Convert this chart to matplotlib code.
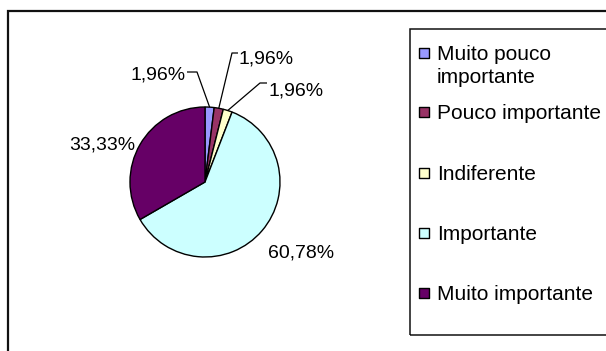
import matplotlib
matplotlib.use('Agg')
import matplotlib.pyplot as plt
import numpy as np
from matplotlib.patches import Rectangle

plt.rcParams['font.family'] = ['Liberation Sans', 'DejaVu Sans']

categories = ['Muito pouco importante', 'Pouco importante', 'Indiferente',
              'Importante', 'Muito importante']
legend_labels = ['Muito pouco\nimportante', 'Pouco importante', 'Indiferente',
                 'Importante', 'Muito importante']
percentages = [1.96, 1.96, 1.96, 60.78, 33.33]
pct_labels = ['1,96%', '1,96%', '1,96%', '60,78%', '33,33%']
colors = ['#9999FF', '#993366', '#FFFFCC', '#CCFFFF', '#660066']

W, H = 606, 351
fig = plt.figure(figsize=(W / 100, H / 100), dpi=100)
ax = fig.add_axes([0, 0, 1, 1])

cx, cy, r = 205, H - 182, 75
wedges, _ = ax.pie(percentages, colors=colors, startangle=90, counterclock=False,
                   center=(cx, cy), radius=r,
                   wedgeprops=dict(edgecolor='black', linewidth=1.0))
ax.set_xlim(0, W)
ax.set_ylim(0, H)
ax.set_aspect('equal')
ax.axis('off')

# outer chart frame and legend box (pixel coords, y measured from top)
ax.add_patch(Rectangle((7.5, -10), 700, H - 11 + 10, fill=False, lw=1.6, ec='#111111'))
ax.add_patch(Rectangle((410, H - 335), 300, 335 - 29, fill=False, lw=1.1, ec='#111111'))

# data labels: (x, y, ha, elbow, line end)
label_pos = [(186, 72, 'right', (197, 72), (187, 72)),
             (239, 57, 'left', (232, 53), (238, 53)),
             (268, 88, 'left', (260, 83), (267, 83)),
             (268, 250, 'left', None, None),
             (135, 143, 'right', None, None)]
fs = 14
for w, txt, (x, y, ha, elbow, end) in zip(wedges, pct_labels, label_pos):
    ax.text(x, H - y - 7, txt, ha=ha, va='baseline', fontsize=fs)
    if elbow is not None:
        ang = np.deg2rad((w.theta1 + w.theta2) / 2)
        ex, ey = cx + r * np.cos(ang), cy + r * np.sin(ang)
        ax.plot([ex, elbow[0], end[0]], [ey, H - elbow[1], H - end[1]],
                color='black', lw=0.9, solid_capstyle='butt')

# legend
leg_y = [53, 112, 173, 233, 293]
line_gap = 23
ax.scatter([424] * len(colors), [H - y for y in leg_y], marker='s', s=62,
           c=colors, edgecolors='black', linewidths=1.0, zorder=3)
for y, lab in zip(leg_y, legend_labels):
    # baseline alignment uses the last line of multi-line text
    n_extra = lab.count('\n')
    ax.text(437, H - (y + n_extra * line_gap) - 7, lab, ha='left', va='baseline',
            fontsize=15, linespacing=1.25)

fig.savefig('out.png', dpi=100)
